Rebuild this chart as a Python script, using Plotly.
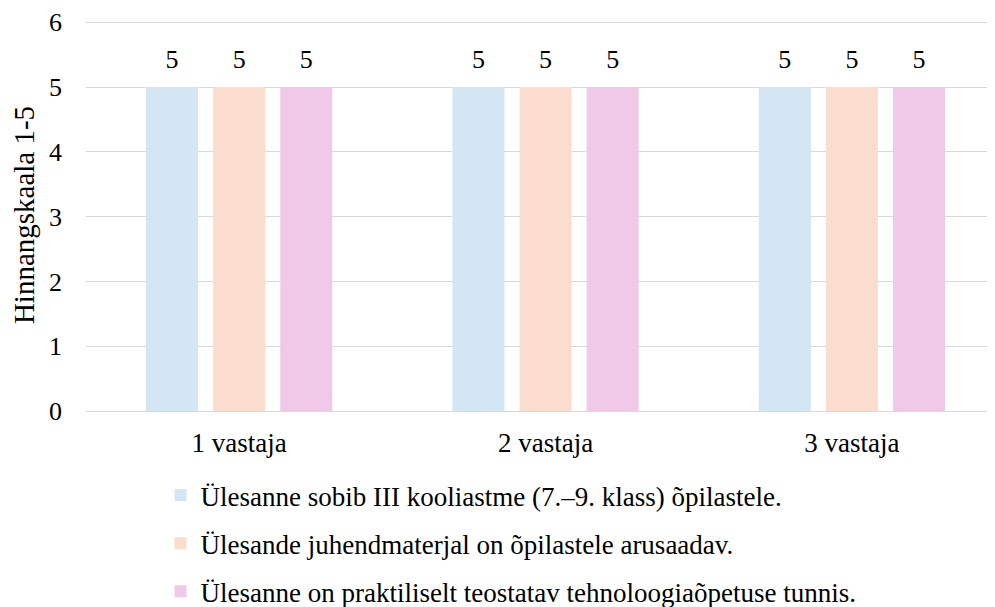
import plotly.graph_objects as go

categories = ["1 vastaja", "2 vastaja", "3 vastaja"]
series_names = [
    "Ülesanne sobib III kooliastme (7.–9. klass) õpilastele.",
    "Ülesande juhendmaterjal on õpilastele arusaadav.",
    "Ülesanne on praktiliselt teostatav tehnoloogiaõpetuse tunnis.",
]
series_values = [
    [5, 5, 5],
    [5, 5, 5],
    [5, 5, 5],
]
colors = ["#D4E5F3", "#FBDDD0", "#F0C8E8"]
y_ticks = [0, 1, 2, 3, 4, 5, 6]

font_family = "Liberation Serif, Times New Roman, serif"
BARGAP = 0.343

fig = go.Figure()
for i, (name, vals) in enumerate(zip(series_names, series_values)):
    fig.add_trace(go.Bar(
        x=categories, y=vals, name=name,
        marker=dict(color=colors[i], line=dict(width=0)),
        legendgroup=f"g{i}", offsetgroup=f"g{i}",
    ))
for i, vals in enumerate(series_values):
    fig.add_trace(go.Scatter(
        x=categories, y=vals, mode="markers+text",
        text=[str(v) for v in vals], textposition="top center",
        textfont=dict(family=font_family, size=26, color="#000000"),
        marker=dict(size=19, opacity=0, color="white"),
        showlegend=False, hoverinfo="skip", cliponaxis=False,
        offsetgroup=f"g{i}",
    ))

fig.update_layout(
    width=987, height=599,
    margin=dict(l=78, r=0, t=11, b=196, autoexpand=False),
    paper_bgcolor="white", plot_bgcolor="white",
    barmode="group", bargap=BARGAP, bargroupgap=0.224,
    scattermode="group", scattergap=BARGAP,
    font=dict(family=font_family, size=26, color="#000000"),
    showlegend=True,
    legend=dict(
        orientation="v", x=0.082, xanchor="left",
        yref="container", y=1 - 463 / 599, yanchor="top",
        font=dict(family=font_family, size=27, color="#000000"),
        tracegroupgap=10, itemwidth=30,
    ),
    xaxis=dict(
        type="category", range=[-0.5, 2.467],
        showline=True, linecolor="#D9D9D9", linewidth=1,
        ticks="", tickfont=dict(size=27), ticklabelstandoff=8,
        automargin=False,
    ),
    yaxis=dict(
        range=[0, 6.05], tickvals=y_ticks, showgrid=True, gridcolor="#D9D9D9",
        zeroline=False, ticks="", tickfont=dict(size=26), ticklabelstandoff=23,
        title=dict(text="Hinnangskaala 1-5", font=dict(size=29), standoff=10),
        automargin=False,
    ),
)

fig.write_html("out.html")
